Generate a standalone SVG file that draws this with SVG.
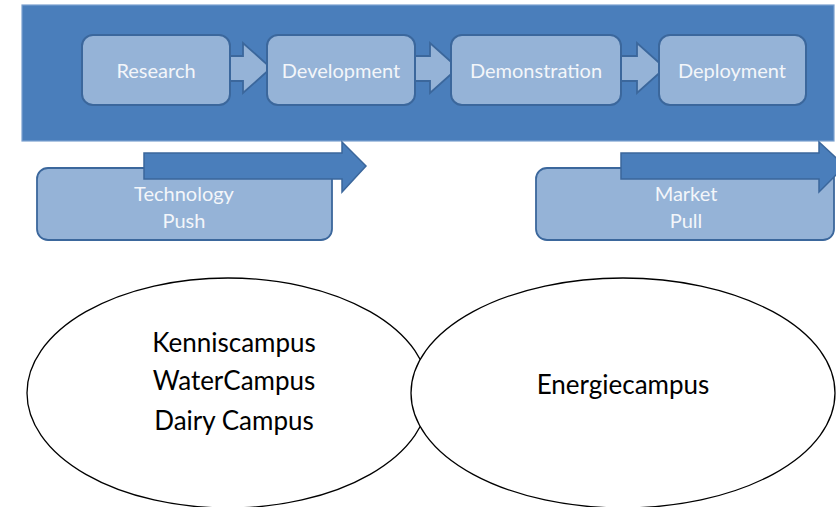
<svg xmlns="http://www.w3.org/2000/svg" width="836" height="507" viewBox="0 0 836 507">
  <style>
    .band { fill: #4a7ebb; stroke: #7aa0cf; stroke-width: 1.2; }
    .stage { fill: #95b3d7; stroke: #3b679c; stroke-width: 2; }
    .step { fill: #95b3d7; stroke: #3b679c; stroke-width: 1.8; stroke-linejoin: miter; }
    .force { fill: #95b3d7; stroke: #3b679c; stroke-width: 1.8; }
    .push { fill: #4a7ebb; stroke: #3b679c; stroke-width: 1.5; stroke-linejoin: miter; }
    .lbl { font-family: Lato, "Open Sans", sans-serif; font-size: 20px; fill: #f3f6fa; text-anchor: middle; }
    .campus { fill: #ffffff; stroke: #000000; stroke-width: 1.3; }
    .ctext { font-family: Lato, "Liberation Sans", sans-serif; font-size: 26px; fill: #000000; text-anchor: middle; }
  </style>

  <!-- background band for the innovation chain -->
  <rect class="band" x="22" y="5" width="812" height="136"/>

  <!-- connectors between the stages -->
  <g id="connectors">
    <polygon class="step" points="222,56 243,56 243,43 271,68 243,93 243,81 222,81"/>
    <polygon class="step" points="407,56 430,56 430,43 458,68 430,93 430,81 407,81"/>
    <polygon class="step" points="614,56 637,56 637,43 665,68 637,93 637,81 614,81"/>
  </g>

  <g id="research">
    <rect class="stage" x="82" y="35" width="148" height="70" rx="11"/>
    <text class="lbl" x="156" y="78">Research</text>
  </g>
  <g id="development">
    <rect class="stage" x="267" y="35" width="148" height="70" rx="11"/>
    <text class="lbl" x="341" y="78">Development</text>
  </g>
  <g id="demonstration">
    <rect class="stage" x="451" y="35" width="170" height="70" rx="11"/>
    <text class="lbl" x="536" y="78">Demonstration</text>
  </g>
  <g id="deployment">
    <rect class="stage" x="659" y="35" width="147" height="70" rx="11"/>
    <text class="lbl" x="732" y="78">Deployment</text>
  </g>

  <!-- driving forces below the chain -->
  <g id="technology-push">
    <rect class="force" x="37" y="168" width="295" height="72" rx="11"/>
    <polygon class="push" points="144,153 342,153 342,142 366,166 342,192 342,179 144,179"/>
    <text class="lbl" x="184" y="201">Technology</text>
    <text class="lbl" x="184" y="228">Push</text>
  </g>
  <g id="market-pull">
    <rect class="force" x="536" y="168" width="298" height="72" rx="11"/>
    <polygon class="push" points="621,153 819,153 819,142 845,166 819,192 819,179 621,179"/>
    <text class="lbl" x="686" y="201">Market</text>
    <text class="lbl" x="686" y="228">Pull</text>
  </g>

  <!-- campuses -->
  <g id="kenniscampus">
    <ellipse class="campus" cx="228" cy="393" rx="201" ry="115"/>
    <text class="ctext" x="234" y="352">Kenniscampus</text>
    <text class="ctext" x="234" y="390">WaterCampus</text>
    <text class="ctext" x="234" y="430">Dairy Campus</text>
  </g>
  <g id="energiecampus">
    <ellipse class="campus" cx="623" cy="393" rx="212" ry="115"/>
    <text class="ctext" x="623" y="394">Energiecampus</text>
  </g>
</svg>
